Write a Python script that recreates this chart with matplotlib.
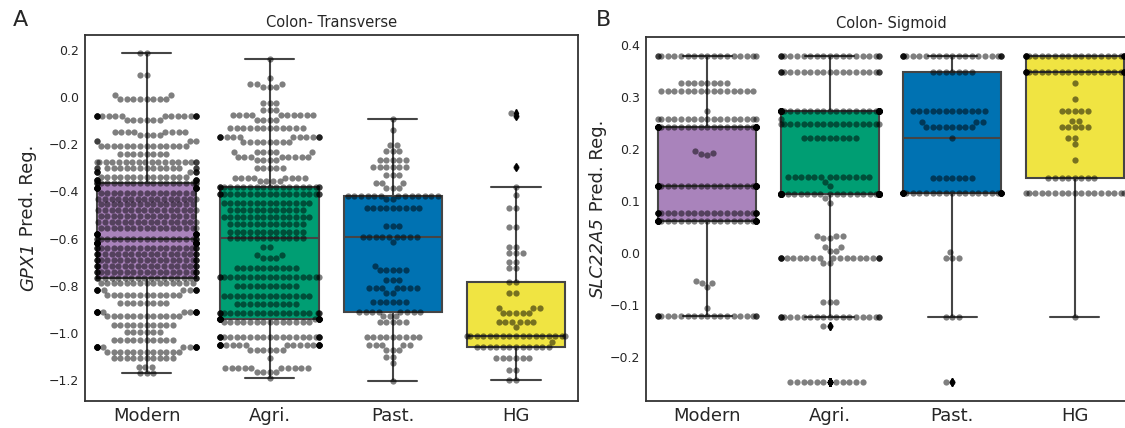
import numpy as np
import pandas as pd
import matplotlib
matplotlib.use('Agg')
import matplotlib.pyplot as plt
import seaborn as sns
import warnings
warnings.filterwarnings('ignore')

groups = ['Modern', 'Agri.', 'Past.', 'HG']
box_colors = ['#a983bb', '#009e73', '#0072b2', '#f0e442']

# ---------------- Panel A: Colon- Transverse, GPX1 (value levels, counts) ----------------
a_modern_vals = [0.186, 0.095, 0.009, -0.009, -0.08, -0.097, -0.147, -0.16, -0.186, -0.206, -0.241,
                 -0.276, -0.302, -0.316, -0.337, -0.352,
                 -0.365, -0.385, -0.405, -0.43, -0.455, -0.48, -0.505, -0.53, -0.555, -0.58, -0.60,
                 -0.62, -0.64, -0.665, -0.69, -0.715, -0.74, -0.765,
                 -0.79, -0.818, -0.84, -0.874, -0.91, -0.93, -0.967, -0.995, -1.03, -1.059, -1.08,
                 -1.108, -1.144, -1.17]
a_modern_cnts = [2, 2, 2, 8, 18, 6, 8, 4, 4, 14, 8,
                 18, 16, 8, 14, 10,
                 20, 16, 15, 16, 15, 16, 15, 16, 16, 16, 20,
                 21, 21, 21, 21, 21, 21, 20,
                 15, 14, 12, 8, 18, 12, 10, 6, 10, 18, 12,
                 10, 3, 3]

a_agri_vals = [0.162, 0.083, 0.055, 0.045, -0.025, -0.055, -0.077, -0.097, -0.13, -0.168, -0.19,
               -0.231, -0.253, -0.267, -0.30, -0.343, -0.357,
               -0.38, -0.412, -0.45, -0.48, -0.509, -0.54, -0.57, -0.597,
               -0.635, -0.67, -0.683, -0.725, -0.763, -0.80, -0.844, -0.878, -0.916, -0.94,
               -0.953, -1.016, -1.052, -1.073, -1.108, -1.15, -1.166, -1.193]
a_agri_cnts = [1, 1, 3, 3, 3, 3, 10, 4, 12, 14, 8,
               6, 8, 4, 5, 8, 4,
               20, 20, 14, 12, 14, 12, 12, 12,
               2, 2, 3, 10, 18, 10, 14, 10, 20, 22,
               14, 24, 24, 6, 1, 10, 4, 1]

a_past_vals = [-0.094, -0.139, -0.203, -0.227, -0.267, -0.296, -0.33, -0.366, -0.387, -0.418,
               -0.432, -0.47, -0.547, -0.592, -0.613, -0.715, -0.733, -0.776, -0.811, -0.832,
               -0.871, -0.91, -0.93, -0.953, -1.016, -1.052, -1.073, -1.101, -1.129, -1.203]
a_past_cnts = [1, 1, 2, 3, 5, 6, 3, 3, 3, 13,
               2, 9, 3, 9, 1, 1, 5, 3, 7, 2,
               6, 8, 3, 5, 9, 5, 3, 2, 1, 1]

a_hg_vals = [-0.065, -0.08, -0.295, -0.383, -0.415, -0.468, -0.55, -0.634, -0.662, -0.698, -0.726,
             -0.784, -0.83, -0.896, -0.917, -0.953, -0.974, -1.013, -1.037, -1.059, -1.108,
             -1.158, -1.2]
a_hg_cnts = [1, 1, 1, 1, 1, 2, 2, 2, 3, 2, 2,
             2, 2, 3, 5, 6, 1, 17, 1, 12, 6,
             2, 2]

# ---------------- Panel B: Colon- Sigmoid, SLC22A5 ----------------
b_modern_vals = [0.379, 0.326, 0.311, 0.273, 0.258, 0.242, 0.197, 0.193, 0.19, 0.188, 0.129,
                 0.076, 0.061, -0.055, -0.058, -0.066, -0.107, -0.122]
b_modern_cnts = [18, 8, 15, 1, 17, 40, 1, 1, 1, 1, 45,
                 25, 40, 1, 2, 1, 1, 20]

b_agri_vals = [0.379, 0.349, 0.273, 0.257, 0.248, 0.222, 0.146, 0.137, 0.128, 0.113, 0.105, 0.096,
               0.032, 0.028, 0.012, 0.003, -0.009, -0.019, -0.095, -0.124, -0.141, -0.249]
b_agri_cnts = [20, 20, 60, 1, 17, 9, 13, 1, 1, 80, 1, 1,
               3, 2, 2, 2, 20, 2, 3, 20, 2, 12]

b_past_vals = [0.379, 0.349, 0.273, 0.252, 0.243, 0.222, 0.145, 0.115, 0.002, -0.009, -0.124, -0.249]
b_past_cnts = [22, 7, 12, 3, 8, 1, 7, 36, 1, 3, 3, 2]

b_hg_vals = [0.379, 0.349, 0.326, 0.296, 0.273, 0.254, 0.243, 0.222, 0.209, 0.179, 0.145, 0.115, -0.124]
b_hg_cnts = [25, 25, 1, 1, 5, 2, 5, 2, 1, 1, 8, 17, 1]

a_yticks = [0.2, 0.0, -0.2, -0.4, -0.6, -0.8, -1.0, -1.2]
b_yticks = [0.4, 0.3, 0.2, 0.1, 0.0, -0.1, -0.2]


def build(vals_list, cnts_list):
    frames = []
    for g, v, c in zip(groups, vals_list, cnts_list):
        frames.append(pd.DataFrame({'group': g, 'value': np.repeat(np.asarray(v, float), c)}))
    return pd.concat(frames, ignore_index=True)


dfA = build([a_modern_vals, a_agri_vals, a_past_vals, a_hg_vals],
            [a_modern_cnts, a_agri_cnts, a_past_cnts, a_hg_cnts])
dfB = build([b_modern_vals, b_agri_vals, b_past_vals, b_hg_vals],
            [b_modern_cnts, b_agri_cnts, b_past_cnts, b_hg_cnts])

sns.set_style('white')
plt.rcParams['font.family'] = ['DejaVu Sans']

W, H = 1125, 428
fig = plt.figure(figsize=(W / 100, H / 100), dpi=100)
axA = fig.add_axes([85 / W, 27 / H, 492.5 / W, 366 / H])
axB = fig.add_axes([646 / W, 27 / H, 490 / W, 364.3 / H])

linec = '#454545'


def draw(ax, df, ylim, yticks, title):
    sns.boxplot(data=df, x='group', y='value', hue='group', order=groups, hue_order=groups,
                palette=box_colors, saturation=1, width=0.8, linewidth=1.5, linecolor=linec,
                legend=False, ax=ax,
                flierprops=dict(marker='d', markerfacecolor='k', markeredgecolor='k',
                                markersize=4, linestyle='none'))
    sns.swarmplot(data=df, x='group', y='value', order=groups, color='k', alpha=0.5,
                  size=4.5, ax=ax)
    ax.set_xlim(-0.5, 3.5)
    ax.set_ylim(*ylim)
    ax.set_yticks(yticks)
    ax.tick_params(axis='y', labelsize=9, pad=4, length=0)
    ax.tick_params(axis='x', labelsize=13, pad=4, length=0)
    ax.set_xlabel('')
    ax.set_ylabel('')
    ax.set_title(title, fontsize=10.5, pad=6)
    for s in ax.spines.values():
        s.set_color('#333333')
        s.set_linewidth(1.3)


draw(axA, dfA, (-1.289, 0.264), a_yticks, 'Colon- Transverse')
draw(axB, dfB, (-0.285, 0.416), b_yticks, 'Colon- Sigmoid')

# y labels: italic gene symbol + regular text; anchored in axes coordinates
tA = axA.text(-0.116, 0.30, 'GPX1', rotation=90, fontsize=13, style='italic',
              transform=axA.transAxes, ha='center', va='bottom')
axA.annotate(' Pred. Reg.', xy=(0.5, 1), xycoords=tA, rotation=90, fontsize=13,
             ha='center', va='bottom')
tB = axB.text(-0.098, 0.283, 'SLC22A5', rotation=90, fontsize=13, style='italic',
              transform=axB.transAxes, ha='center', va='bottom')
axB.annotate(' Pred. Reg.', xy=(0.5, 1), xycoords=tB, rotation=90, fontsize=13,
             ha='center', va='bottom')

fig.text(13 / W, 1 - 10 / H, 'A', fontsize=16, va='top', ha='left')
fig.text(596 / W, 1 - 10 / H, 'B', fontsize=16, va='top', ha='left')

fig.savefig('out.png', dpi=100)
